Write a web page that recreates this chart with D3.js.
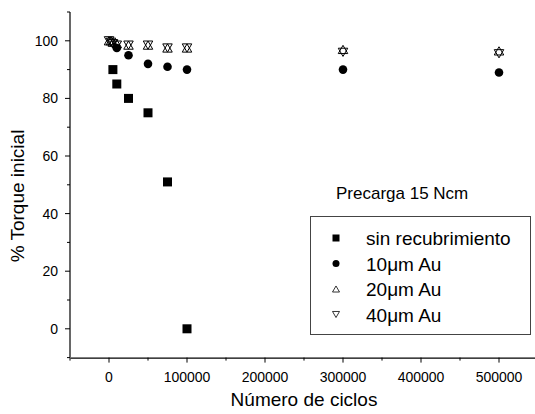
<!DOCTYPE html>
<html><head><meta charset="utf-8">
<script src="https://cdn.jsdelivr.net/npm/d3@7"></script>
<style>body{margin:0;background:#fff}text{font-family:"Liberation Sans",Arial,sans-serif;fill:#000}</style>
</head><body><svg id="c" width="535" height="414"></svg>
<script>
const xTicks = [0,100000,200000,300000,400000,500000];
const yTicks = [0,20,40,60,80,100];
const sinX = [5000,10000,25000,50000,75000,100000];
const sinY = [90,85,80,75,51,0];
const au10X = [10000,25000,50000,75000,100000,300000,500000];
const au10Y = [97.5,95,92,91,90,90,89];
const au20X = [0,2500,5000,10000,25000,50000,75000,100000,300000,500000];
const au20Y = [100,100,99.5,99,98.5,98.5,97.5,97.5,97,96.5];
const au40X = [0,2500,5000,10000,25000,50000,75000,100000,300000,500000];
const au40Y = [100,99.5,99,98.5,98.5,98.5,97.5,97.5,96,95.5];
const legendLabels = ["sin recubrimiento","10\u03BCm Au","20\u03BCm Au","40\u03BCm Au"];

const svg = d3.select("#c");
const x = d3.scaleLinear().domain([-50000,550000]).range([70,538]);
const y = d3.scaleLinear().domain([-10,110]).range([357.6,12]);

// axes
const gx = svg.append("g").attr("transform","translate(0,"+y(-10)+")");
gx.call(d3.axisBottom(x).tickValues(d3.range(-50000,550001,50000)).tickSize(0).tickFormat(""));
gx.selectAll(".tick line").remove();
svg.append("g").selectAll("line").data(d3.range(-50000,550001,50000)).join("line")
  .attr("x1",d=>x(d)).attr("x2",d=>x(d)).attr("y1",y(-10)).attr("y2",d=>y(-10)+(d%100000===0?5:3))
  .attr("stroke","#000").attr("stroke-width",1);
svg.append("g").selectAll("text").data(xTicks).join("text")
  .attr("x",d=>x(d)).attr("y",382).attr("text-anchor","middle").attr("font-size",14).text(d=>d);
gx.select(".domain").attr("stroke","#000").attr("stroke-width",1.2);

svg.append("line").attr("x1",70).attr("x2",70).attr("y1",y(110)).attr("y2",y(-10)).attr("stroke","#000").attr("stroke-width",1.2);
svg.append("g").selectAll("line").data(d3.range(-10,111,10)).join("line")
  .attr("x1",70).attr("x2",d=>70-((d%20===0)?5:3)).attr("y1",d=>y(d)).attr("y2",d=>y(d))
  .attr("stroke","#000").attr("stroke-width",1);
svg.append("g").selectAll("text").data(yTicks).join("text")
  .attr("x",58).attr("y",d=>y(d)+5).attr("text-anchor","end").attr("font-size",14).text(d=>d);

svg.append("text").attr("x",x(250000)).attr("y",406).attr("text-anchor","middle").attr("font-size",19).text("Número de ciclos");
svg.append("text").attr("transform","translate(24,196) rotate(-90)").attr("text-anchor","middle").attr("font-size",19).text("% Torque inicial");

// symbols
function tri(up,s){const h=s*0.866;return up?`M0,${-h/2}L${s/2},${h/2}L${-s/2},${h/2}Z`:`M0,${h/2}L${s/2},${-h/2}L${-s/2},${-h/2}Z`;}
function drawSeries(xs,ys,kind){
  const g=svg.append("g");
  xs.forEach((xv,i)=>{
    const px=x(xv),py=y(ys[i]);
    if(kind==="sq") g.append("rect").attr("x",px-4.5).attr("y",py-4.5).attr("width",9).attr("height",9).attr("fill","#000");
    else if(kind==="ci") g.append("circle").attr("cx",px).attr("cy",py).attr("r",4.3).attr("fill","#000");
    else g.append("path").attr("d",tri(kind==="up",9.5)).attr("transform",`translate(${px},${py})`).attr("fill","none").attr("stroke","#000").attr("stroke-width",1);
  });
}
drawSeries(sinX,sinY,"sq");
drawSeries(au10X,au10Y,"ci");
drawSeries(au20X,au20Y,"up");
drawSeries(au40X,au40Y,"dn");

// legend
svg.append("text").attr("x",336).attr("y",199).attr("font-size",17).text("Precarga 15 Ncm");
svg.append("rect").attr("x",310.5).attr("y",216.5).attr("width",220).attr("height",118).attr("fill","none").attr("stroke","#444").attr("stroke-width",1);
const ly=[238,263.5,289,314.5];
const kinds=["sq","ci","up","dn"];
legendLabels.forEach((t,i)=>{
  const cx=336, cy=ly[i];
  if(kinds[i]==="sq") svg.append("rect").attr("x",cx-3.5).attr("y",cy-3.5).attr("width",7).attr("height",7).attr("fill","#000");
  else if(kinds[i]==="ci") svg.append("circle").attr("cx",cx).attr("cy",cy).attr("r",3.5).attr("fill","#000");
  else svg.append("path").attr("d",tri(kinds[i]==="up",7)).attr("transform",`translate(${cx},${cy})`).attr("fill","none").attr("stroke","#000").attr("stroke-width",0.8);
  svg.append("text").attr("x",366).attr("y",cy+7).attr("font-size",19).text(t);
});
</script></body></html>
